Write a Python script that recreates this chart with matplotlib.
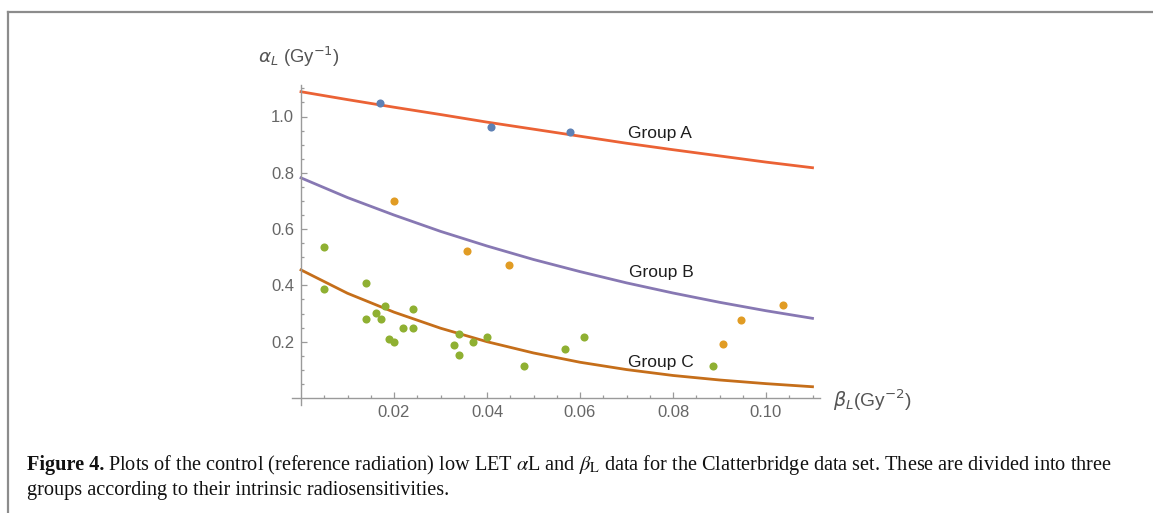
import matplotlib
matplotlib.use('Agg')
import matplotlib.pyplot as plt
from matplotlib.lines import Line2D

# curve values (beta_L in Gy^-2, alpha_L in Gy^-1)
curve_beta = [0.0, 0.01, 0.02, 0.03, 0.04, 0.05, 0.06, 0.07, 0.08, 0.09, 0.10, 0.11]
group_a_fit = [1.088, 1.060, 1.033, 1.007, 0.980, 0.955, 0.930, 0.905, 0.882, 0.860, 0.838, 0.818]
group_b_fit = [0.782, 0.712, 0.650, 0.592, 0.540, 0.492, 0.449, 0.409, 0.373, 0.340, 0.310, 0.283]
group_c_fit = [0.455, 0.372, 0.305, 0.248, 0.200, 0.160, 0.127, 0.101, 0.080, 0.064, 0.051, 0.040]

# measured points
group_a_beta = [0.0170, 0.0409, 0.0578]
group_a_alpha = [1.047, 0.964, 0.946]
group_b_beta = [0.0201, 0.0358, 0.0448, 0.0907, 0.0946, 0.1036]
group_b_alpha = [0.700, 0.521, 0.472, 0.191, 0.277, 0.331]
group_c_beta = [0.0050, 0.0050, 0.0140, 0.0140, 0.0161, 0.0171, 0.0181, 0.0190, 0.0201,
                0.0220, 0.0240, 0.0240, 0.0329, 0.0340, 0.0340, 0.0369, 0.0400, 0.0480,
                0.0567, 0.0609, 0.0885]
group_c_alpha = [0.538, 0.388, 0.408, 0.279, 0.301, 0.279, 0.328, 0.210, 0.199,
                 0.248, 0.315, 0.248, 0.188, 0.227, 0.154, 0.199, 0.218, 0.113,
                 0.174, 0.218, 0.114]

x_ticks = [0.02, 0.04, 0.06, 0.08, 0.10]
x_tick_labels = ['0.02', '0.04', '0.06', '0.08', '0.10']
y_ticks = [0.2, 0.4, 0.6, 0.8, 1.0]
y_tick_labels = ['0.2', '0.4', '0.6', '0.8', '1.0']
x_minor = [0.005, 0.01, 0.015, 0.025, 0.03, 0.035, 0.045, 0.05, 0.055, 0.065, 0.07,
           0.075, 0.085, 0.09, 0.095, 0.105, 0.11]
y_minor = [0.05, 0.1, 0.15, 0.25, 0.3, 0.35, 0.45, 0.5, 0.55, 0.65, 0.7, 0.75,
           0.85, 0.9, 0.95, 1.05, 1.1]

W, H = 1153, 513
fig = plt.figure(figsize=(W / 100, H / 100), dpi=100)
plt.rcParams['font.family'] = ['Liberation Sans', 'DejaVu Sans']

# outer frame (top and left lines)
fig.add_artist(Line2D([8 / W, 1.0], [1 - 12 / H, 1 - 12 / H], color='#8c8c8c', lw=1.6))
fig.add_artist(Line2D([8 / W, 8 / W], [0.0, 1 - 12 / H], color='#8c8c8c', lw=1.6))

ax = fig.add_axes([292 / W, 1 - 405 / H, (820 - 292) / W, (405 - 85) / H])
ax.set_xlim(-9 / 4650, (820 - 301) / 4650)
ax.set_ylim(-7 / 281.5, (398 - 85) / 281.5)

for s in ['top', 'right']:
    ax.spines[s].set_visible(False)
for s in ['left', 'bottom']:
    ax.spines[s].set_position(('data', 0))
    ax.spines[s].set_color('#9a9a9a')
    ax.spines[s].set_linewidth(1.0)

ax.plot(curve_beta, group_a_fit, color='#EB6235', lw=2.0, zorder=2)
ax.plot(curve_beta, group_b_fit, color='#8778B3', lw=2.0, zorder=2)
ax.plot(curve_beta, group_c_fit, color='#C56E1A', lw=2.0, zorder=2)

ax.scatter(group_a_beta, group_a_alpha, s=34, color='#5E81B5', zorder=3, linewidths=0)
ax.scatter(group_b_beta, group_b_alpha, s=34, color='#E19C24', zorder=3, linewidths=0)
ax.scatter(group_c_beta, group_c_alpha, s=34, color='#8FB032', zorder=3, linewidths=0)

ax.set_xticks(x_ticks)
ax.set_xticklabels(x_tick_labels)
ax.set_yticks(y_ticks)
ax.set_yticklabels(y_tick_labels)
ax.set_xticks(x_minor, minor=True)
ax.set_yticks(y_minor, minor=True)
ax.tick_params(which='both', direction='in', color='#9a9a9a', labelcolor='#666666',
               labelsize=12, width=0.9)
ax.tick_params(which='major', length=4.5, pad=5)
ax.tick_params(which='minor', length=2.5)

ax.text(0.0703, 0.941, 'Group A', fontsize=12.5, color='#1e1e1e', va='center')
ax.text(0.0705, 0.445, 'Group B', fontsize=12.5, color='#1e1e1e', va='center')
ax.text(0.0703, 0.125, 'Group C', fontsize=12.5, color='#1e1e1e', va='center')

fig.text(258 / W, 1 - 57 / H, r'$\alpha_L$ (Gy$^{-1}$)', fontsize=13.3, color='#555555',
         va='center', ha='left', math_fontfamily='dejavusans')
fig.text(833 / W, 1 - 400 / H, r'$\beta_L$(Gy$^{-2}$)', fontsize=13.8, color='#555555',
         va='center', ha='left', math_fontfamily='dejavusans')

# caption
cap_size = 14.6
serif = ['Liberation Serif', 'DejaVu Serif']
t1 = fig.text(27 / W, 1 - 470 / H, 'Figure 4.', fontsize=cap_size, weight='bold',
              family=serif, va='baseline', color='#111111')
fig.canvas.draw()
bb = t1.get_window_extent(fig.canvas.get_renderer())
fig.text(bb.x1 / W + 4 / W, 1 - 470 / H,
         r'Plots of the control (reference radiation) low LET $\alpha$L and $\beta_{\mathrm{L}}$ '
         'data for the Clatterbridge data set. These are divided into three',
         fontsize=cap_size, family=serif, va='baseline', color='#111111', math_fontfamily='stix')
fig.text(27 / W, 1 - 495 / H, 'groups according to their intrinsic radiosensitivities.',
         fontsize=cap_size, family=serif, va='baseline', color='#111111')

fig.savefig('out.png', dpi=100)
